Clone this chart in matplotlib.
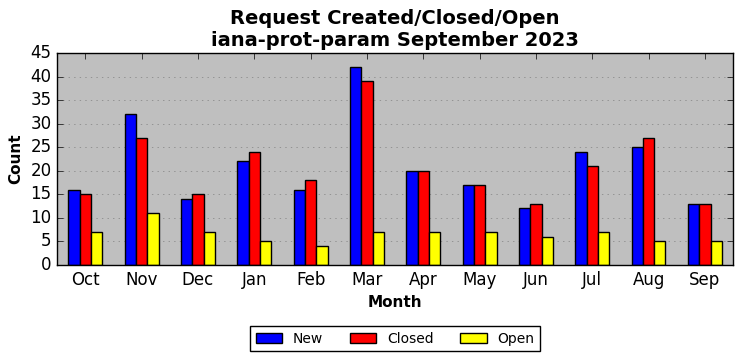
import matplotlib
matplotlib.use("Agg")
import matplotlib.pyplot as plt
import numpy as np

plt.style.use("classic")

months = ["Oct", "Nov", "Dec", "Jan", "Feb", "Mar", "Apr", "May", "Jun", "Jul", "Aug", "Sep"]
new = [16, 32, 14, 22, 16, 42, 20, 17, 12, 24, 25, 13]
closed = [15, 27, 15, 24, 18, 39, 20, 17, 13, 21, 27, 13]
opened = [7, 11, 7, 5, 4, 7, 7, 7, 6, 7, 5, 5]

x = np.arange(len(months))
w = 0.2

fig, ax = plt.subplots(figsize=(7.42, 3.61), dpi=100)
fig.patch.set_facecolor("white")
ax.set_facecolor("#bfbfbf")

ax.bar(x - w, new, w, color="blue", edgecolor="black", label="New", align="center")
ax.bar(x, closed, w, color="red", edgecolor="black", label="Closed", align="center")
ax.bar(x + w, opened, w, color="yellow", edgecolor="black", label="Open", align="center")

ax.set_xlim(-0.5, len(months) - 0.5)
ax.set_ylim(0, 45)
ax.set_yticks(range(0, 46, 5))
ax.set_xticks(x)
ax.set_xticklabels(months)
ax.tick_params(labelsize=12)
ax.yaxis.grid(True, linestyle=":", color="gray")
ax.set_axisbelow(True)

ax.set_title("Request Created/Closed/Open\niana-prot-param September 2023", fontsize=14, fontweight="bold")
ax.set_xlabel("Month", fontsize=11, fontweight="bold")
ax.set_ylabel("Count", fontsize=11, fontweight="bold")

ax.legend(loc="upper center", bbox_to_anchor=(0.5, -0.255), ncol=3, fontsize=10,
          frameon=True, handlelength=1.9, columnspacing=1.9)

fig.subplots_adjust(left=0.077, right=0.988, top=0.853, bottom=0.266)
fig.savefig("out.png", dpi=100)
